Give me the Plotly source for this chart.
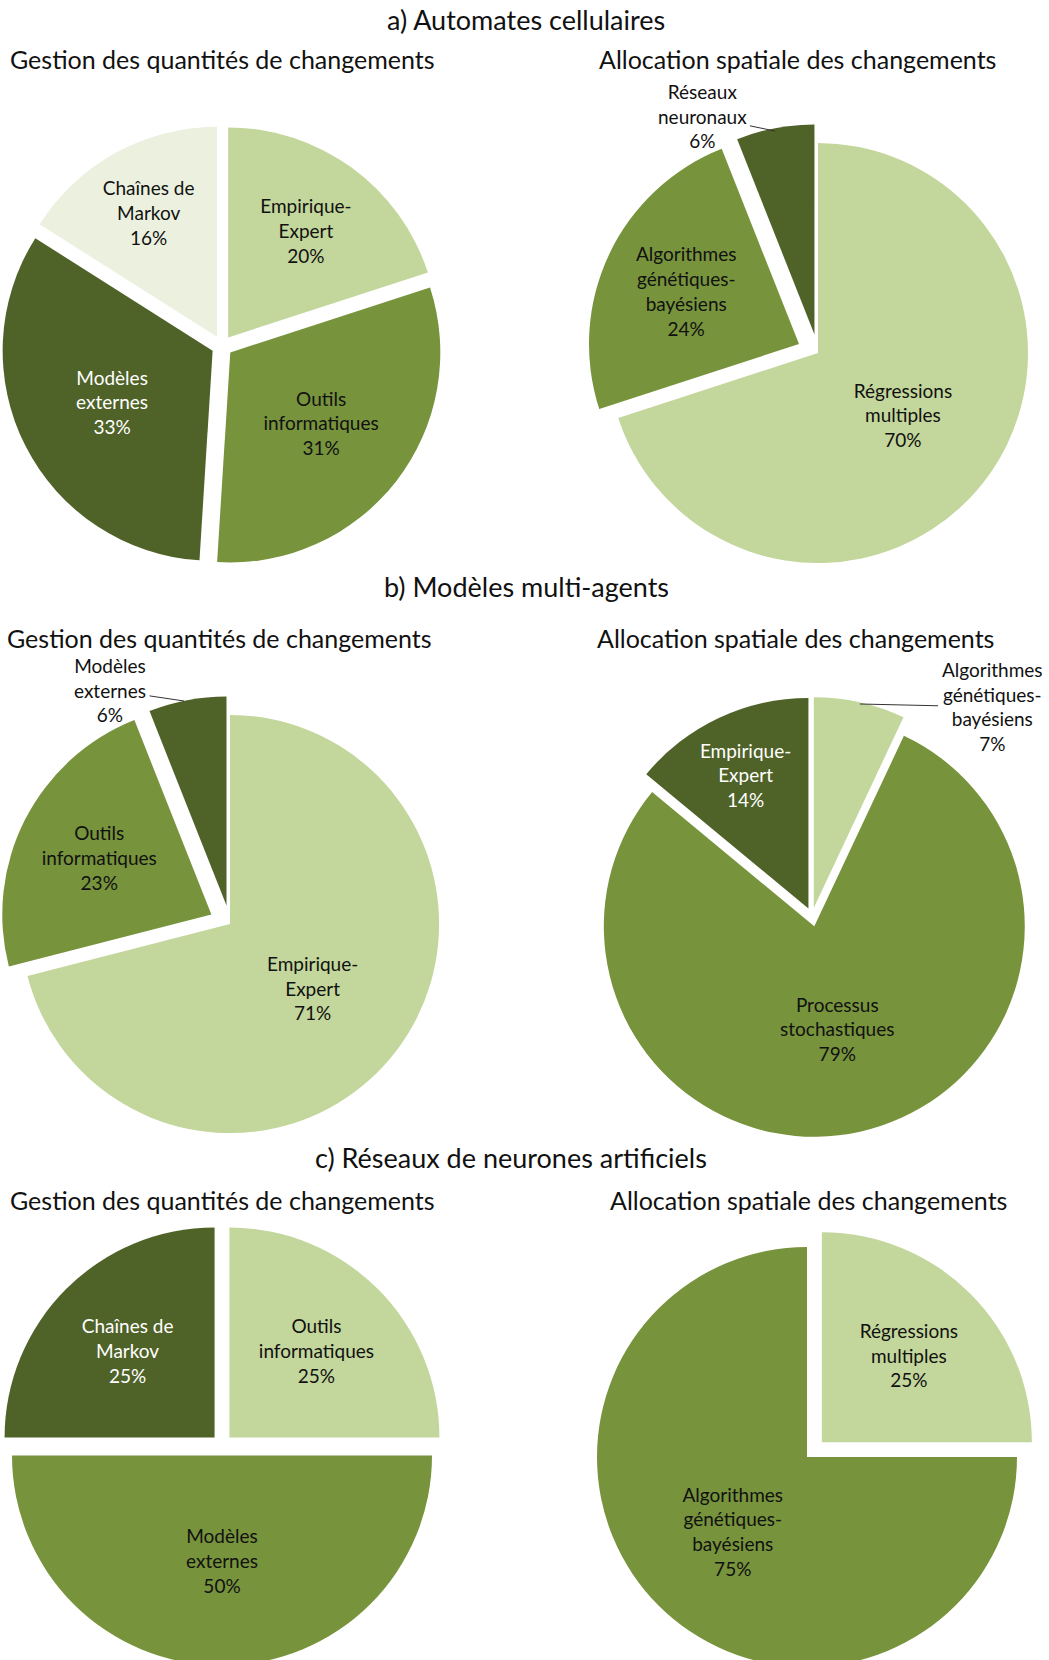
import plotly.graph_objects as go

# ---------------- data ----------------
titles = ["a) Automates cellulaires", "b) Modèles multi-agents", "c) Réseaux de neurones artificiels"]
sub_left = "Gestion des quantités de changements"
sub_right = "Allocation spatiale des changements"

a_qty_labels = ["Empirique-<br>Expert", "Outils<br>informatiques", "Modèles<br>externes", "Chaînes de<br>Markov"]
a_qty_values = [20, 31, 33, 16]

a_alloc_labels = ["Régressions<br>multiples", "Algorithmes<br>génétiques-<br>bayésiens", "Réseaux<br>neuronaux"]
a_alloc_values = [70, 24, 6]

b_qty_labels = ["Empirique-<br>Expert", "Outils<br>informatiques", "Modèles<br>externes"]
b_qty_values = [71, 23, 6]

b_alloc_labels = ["Algorithmes<br>génétiques-<br>bayésiens", "Processus<br>stochastiques", "Empirique-<br>Expert"]
b_alloc_values = [7, 79, 14]

c_qty_labels = ["Outils<br>informatiques", "Modèles<br>externes", "Chaînes de<br>Markov"]
c_qty_values = [25, 50, 25]

c_alloc_labels = ["Régressions<br>multiples", "Algorithmes<br>génétiques-<br>bayésiens"]
c_alloc_values = [25, 75]

# ---------------- style ----------------
LIGHTEST = "#EBF1DE"
LIGHT = "#C3D69B"
MID = "#77933C"
DARK = "#4F6228"
TXT = "#111111"
WHITE = "#ffffff"
FONT = "Lato, 'Open Sans', sans-serif"
LBL = 19

W, H = 1049, 1700      # figure is a bit taller than the window: bottom pies are cropped as in the source
OX, OY = 0, 0          # page body margin removed by post_script


def px(x):
    return (x - OX) / W


def py(y):
    return 1 - (y - OY) / H


def dom(cx, cy, half):
    x0 = max(0.0, px(cx - half))
    x1 = min(1.0, px(cx + half))
    y0 = max(0.0, py(cy + half))
    y1 = min(1.0, py(cy - half))
    return dict(x=[x0, x1], y=[y0, y1])


fig = go.Figure()


def add_pie(labels, values, colors, pulls, tcolors, tpos, domain):
    fig.add_trace(go.Pie(
        labels=labels,
        values=values,
        sort=False,
        direction="clockwise",
        rotation=0,
        pull=pulls,
        marker=dict(colors=colors, line=dict(color="white", width=0)),
        texttemplate="%{label}<br>%{value}%",
        textposition=tpos,
        insidetextorientation="horizontal",
        textfont=dict(family=FONT, size=LBL, color=tcolors),
        hoverinfo="label+value",
        showlegend=False,
        domain=domain,
    ))


# row a
add_pie(a_qty_labels, a_qty_values, [LIGHT, MID, DARK, LIGHTEST],
        [0.05, 0.05, 0.05, 0.05], [TXT, TXT, WHITE, TXT],
        ["inside"] * 4, dom(222, 346, 220.5))
add_pie(a_alloc_labels, a_alloc_values, [LIGHT, MID, DARK],
        [0, 0.1, 0.09], [TXT, TXT, TXT],
        ["inside", "inside", "none"], dom(818, 353, 231))
# row b
add_pie(b_qty_labels, b_qty_values, [LIGHT, MID, DARK],
        [0, 0.1, 0.09], [TXT, TXT, TXT],
        ["inside", "inside", "none"], dom(230, 924, 230))
add_pie(b_alloc_labels, b_alloc_values, [LIGHT, MID, DARK],
        [0.04, 0.05, 0.04], [TXT, TXT, WHITE],
        ["none", "inside", "inside"], dom(812, 916, 221))
# row c
add_pie(c_qty_labels, c_qty_values, [LIGHT, MID, DARK],
        [0.05, 0.05, 0.05], [TXT, TXT, WHITE],
        ["inside"] * 3, dom(222, 1445, 220.5))
add_pie(c_alloc_labels, c_alloc_values, [LIGHT, MID],
        [0.1, 0], [TXT, TXT],
        ["inside"] * 2, dom(807, 1457, 231))

# titles
ann = []
for t, y, x in zip(titles, [20, 587, 1157], [526, 526, 511]):
    ann.append(dict(text=t, x=px(x), y=py(y), xref="paper", yref="paper",
                    showarrow=False, font=dict(family=FONT, size=27, color=TXT),
                    xanchor="center", yanchor="middle"))
for y, xl, xr in [(59, 222, 797), (638, 219, 795), (1200, 222, 808)]:
    ann.append(dict(text=sub_left, x=px(xl), y=py(y), xref="paper", yref="paper",
                    showarrow=False, font=dict(family=FONT, size=25, color=TXT),
                    xanchor="center", yanchor="middle"))
    ann.append(dict(text=sub_right, x=px(xr), y=py(y), xref="paper", yref="paper",
                    showarrow=False, font=dict(family=FONT, size=25, color=TXT),
                    xanchor="center", yanchor="middle"))


# outside labels with leader lines (small slices)
def outside_label(label, value, tip, textc):
    ann.append(dict(
        text=f"{label}<br>{value}%", x=px(tip[0]), y=py(tip[1]),
        xref="paper", yref="paper", showarrow=True, arrowhead=0, arrowwidth=1,
        arrowcolor="#333333", standoff=0, startstandoff=2,
        ax=textc[0] - tip[0], ay=textc[1] - tip[1],
        font=dict(family=FONT, size=LBL, color=TXT), align="center",
    ))


outside_label(a_alloc_labels[2], a_alloc_values[2], (775, 131), (702, 116))
outside_label(b_qty_labels[2], b_qty_values[2], (184, 701), (110, 690))
outside_label(b_alloc_labels[0], b_alloc_values[0], (860, 704), (992, 707))

fig.update_layout(
    width=W, height=H,
    margin=dict(l=0, r=0, t=0, b=0, autoexpand=False),
    paper_bgcolor="white",
    plot_bgcolor="white",
    annotations=ann,
    font=dict(family=FONT),
)

fig.write_html("out.html",
               config={"displayModeBar": False},
               post_script="document.body.style.margin='0px';document.body.style.padding='0px';")
